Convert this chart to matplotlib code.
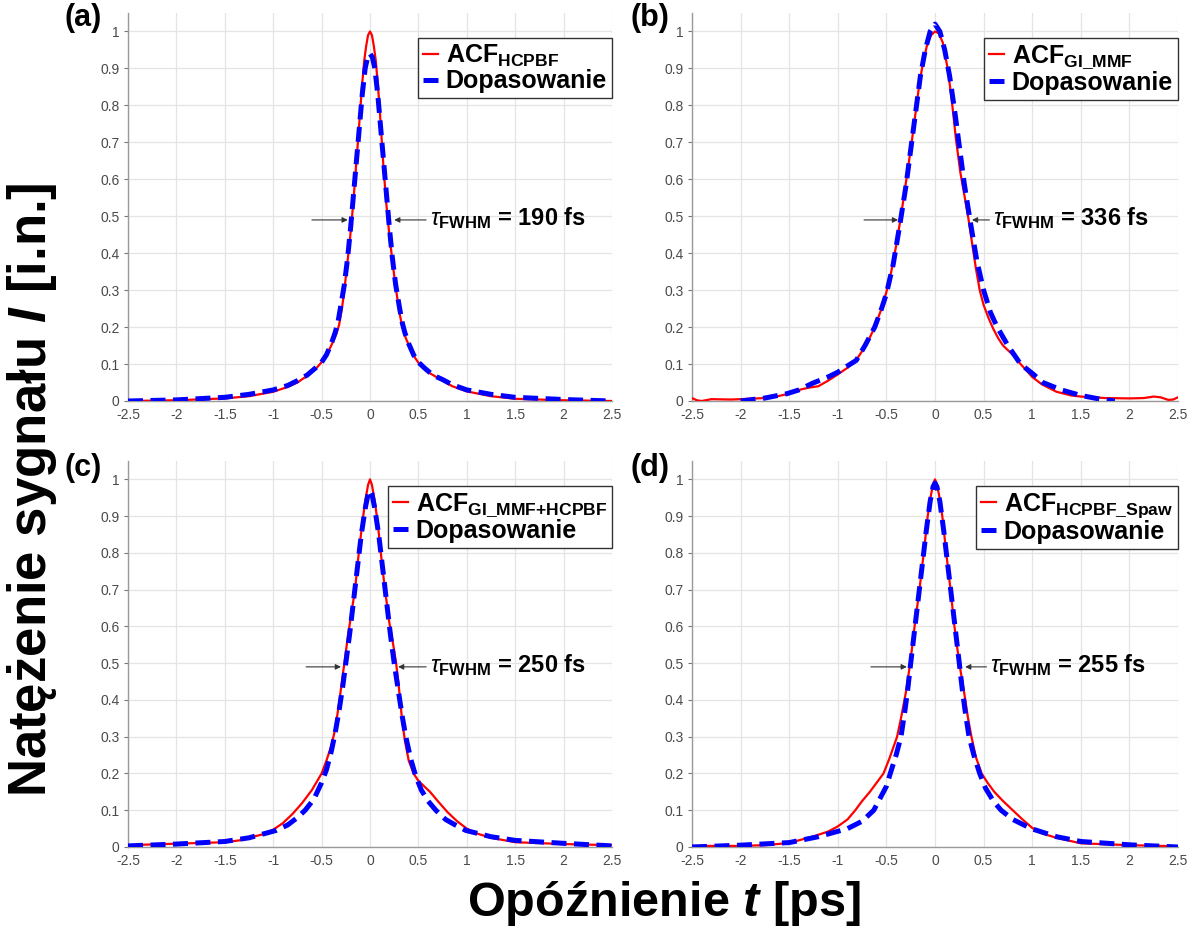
import numpy as np
import matplotlib
matplotlib.use("Agg")
import matplotlib.pyplot as plt

plt.rcParams['font.family'] = ['Liberation Sans', 'DejaVu Sans']
plt.rcParams['mathtext.fontset'] = 'custom'
plt.rcParams['mathtext.rm'] = 'Liberation Sans'
plt.rcParams['mathtext.it'] = 'Liberation Sans:italic'
plt.rcParams['mathtext.bf'] = 'Liberation Sans:bold'
plt.rcParams['mathtext.sf'] = 'Liberation Sans:bold:italic'

#%% data (delay in ps, normalised intensity)
# (a) HCPBF
a_acf_t = [-2.5, -2.0, -1.5, -1.25, -1.0, -0.85, -0.75, -0.65, -0.55, -0.5, -0.45, -0.4, -0.35, -0.32,
           -0.29, -0.265, -0.24, -0.21, -0.185, -0.16, -0.14, -0.125, -0.1, -0.08, -0.06, -0.04, -0.02, 0.0,
           0.02, 0.04, 0.06, 0.08, 0.1, 0.12, 0.14, 0.17, 0.2, 0.235, 0.27, 0.3, 0.33, 0.37, 0.42,
           0.47, 0.51, 0.6, 0.75, 0.85, 1.0, 1.25, 1.5, 2.0, 2.5]
a_acf_i = [0.0, 0.002, 0.007, 0.013, 0.025, 0.038, 0.05, 0.068, 0.09, 0.105, 0.125, 0.15, 0.18, 0.205,
           0.25, 0.3, 0.36, 0.43, 0.5, 0.58, 0.65, 0.7, 0.79, 0.86, 0.92, 0.96, 0.99, 1.0,
           0.99, 0.96, 0.92, 0.86, 0.79, 0.71, 0.63, 0.53, 0.45, 0.37, 0.3, 0.245, 0.205, 0.17, 0.14,
           0.115, 0.1, 0.078, 0.055, 0.04, 0.026, 0.013, 0.006, 0.002, 0.0]
a_fit_t = [-2.5, -2.0, -1.5, -1.25, -1.0, -0.85, -0.75, -0.65, -0.56, -0.5, -0.45, -0.4, -0.36, -0.33,
           -0.3, -0.265, -0.23, -0.2, -0.17, -0.14, -0.11, -0.08, -0.05, -0.025, 0.0,
           0.025, 0.05, 0.08, 0.11, 0.14, 0.17, 0.2, 0.23, 0.265, 0.3, 0.33, 0.36, 0.4, 0.45,
           0.5, 0.56, 0.65, 0.75, 0.85, 1.0, 1.25, 1.5, 2.0, 2.5]
a_fit_i = [0.0, 0.003, 0.01, 0.018, 0.03, 0.042, 0.055, 0.07, 0.09, 0.105, 0.125, 0.155, 0.185, 0.215,
           0.26, 0.315, 0.39, 0.47, 0.56, 0.65, 0.74, 0.83, 0.9, 0.93, 0.94,
           0.93, 0.9, 0.83, 0.74, 0.65, 0.56, 0.47, 0.39, 0.315, 0.26, 0.215, 0.185, 0.155, 0.125,
           0.105, 0.09, 0.07, 0.058, 0.044, 0.03, 0.018, 0.01, 0.004, 0.0]

# (b) GI_MMF
b_acf_t = [-2.5, -2.45, -2.4, -2.3, -2.1, -2.0, -1.75, -1.6, -1.5, -1.4, -1.3, -1.2, -1.1, -1.0,
           -0.9, -0.8, -0.7, -0.62, -0.55, -0.5, -0.45, -0.4, -0.35, -0.3, -0.245, -0.2, -0.16,
           -0.12, -0.08, -0.04, 0.0, 0.04, 0.08, 0.13, 0.17, 0.215, 0.26, 0.3, 0.34, 0.38, 0.42,
           0.46, 0.5, 0.55, 0.6, 0.65, 0.7, 0.8, 0.88, 0.95, 1.0, 1.1, 1.25, 1.4, 1.5, 1.75, 2.0,
           2.15, 2.25, 2.32, 2.4, 2.45, 2.5]
b_acf_i = [0.008, 0.002, 0.0, 0.005, 0.004, 0.005, 0.008, 0.014, 0.02, 0.03, 0.036, 0.04, 0.055, 0.072,
           0.09, 0.115, 0.155, 0.2, 0.25, 0.295, 0.35, 0.42, 0.5, 0.59, 0.69, 0.78, 0.86,
           0.92, 0.965, 0.99, 1.0, 0.995, 0.97, 0.9, 0.82, 0.71, 0.62, 0.56, 0.5, 0.43, 0.36,
           0.3, 0.26, 0.225, 0.195, 0.17, 0.15, 0.125, 0.1, 0.08, 0.065, 0.045, 0.025, 0.015, 0.012,
           0.008, 0.007, 0.008, 0.012, 0.01, 0.003, 0.004, 0.01]
b_fit_t = [-2.0, -1.75, -1.52, -1.4, -1.26, -1.1, -1.0, -0.9, -0.81, -0.72, -0.62, -0.55, -0.5,
           -0.43, -0.36, -0.3, -0.25, -0.2, -0.15, -0.1, -0.05, 0.0, 0.05, 0.1, 0.15, 0.2, 0.25,
           0.3, 0.36, 0.43, 0.5, 0.57, 0.64, 0.75, 0.88, 1.0, 1.11, 1.3, 1.5, 1.7, 1.85]
b_fit_i = [0.0, 0.008, 0.02, 0.03, 0.048, 0.065, 0.078, 0.095, 0.11, 0.15, 0.2, 0.25, 0.29,
           0.37, 0.48, 0.58, 0.68, 0.78, 0.88, 0.95, 1.0, 1.02, 1.0, 0.95, 0.88, 0.79, 0.69,
           0.59, 0.49, 0.38, 0.3, 0.24, 0.2, 0.15, 0.1, 0.075, 0.05, 0.03, 0.015, 0.005, 0.0]

# (c) GI_MMF+HCPBF
c_acf_t = [-2.5, -2.0, -1.5, -1.35, -1.25, -1.1, -1.0, -0.9, -0.8, -0.7, -0.6, -0.5, -0.45, -0.4,
           -0.36, -0.32, -0.29, -0.265, -0.23, -0.19, -0.155, -0.12, -0.08, -0.05, -0.02, 0.0,
           0.02, 0.05, 0.08, 0.12, 0.15, 0.2, 0.24, 0.27, 0.3, 0.33, 0.36, 0.4, 0.45, 0.5, 0.56,
           0.62, 0.7, 0.8, 0.9, 1.0, 1.1, 1.25, 1.5, 2.0, 2.5]
c_acf_i = [0.005, 0.009, 0.013, 0.018, 0.025, 0.035, 0.047, 0.065, 0.09, 0.12, 0.155, 0.2, 0.235, 0.275,
           0.32, 0.39, 0.45, 0.5, 0.57, 0.64, 0.7, 0.79, 0.88, 0.94, 0.985, 1.0,
           0.985, 0.94, 0.88, 0.78, 0.71, 0.61, 0.55, 0.5, 0.43, 0.35, 0.29, 0.235, 0.2, 0.18, 0.165,
           0.15, 0.125, 0.095, 0.07, 0.05, 0.037, 0.025, 0.013, 0.008, 0.005]
c_fit_t = [-2.5, -2.0, -1.5, -1.25, -0.97, -0.85, -0.75, -0.67, -0.58, -0.5, -0.45, -0.4, -0.36,
           -0.32, -0.28, -0.25, -0.21, -0.17, -0.13, -0.09, -0.05, -0.02, 0.0, 0.02, 0.05, 0.09,
           0.13, 0.17, 0.21, 0.25, 0.29, 0.33, 0.37, 0.42, 0.47, 0.53, 0.6, 0.68, 0.78, 0.88, 0.99,
           1.25, 1.5, 2.0, 2.5]
c_fit_i = [0.003, 0.008, 0.015, 0.025, 0.045, 0.06, 0.08, 0.1, 0.13, 0.175, 0.21, 0.26, 0.31,
           0.37, 0.44, 0.5, 0.58, 0.67, 0.76, 0.85, 0.92, 0.96, 0.97, 0.96, 0.92, 0.85,
           0.76, 0.67, 0.58, 0.5, 0.43, 0.36, 0.3, 0.24, 0.195, 0.155, 0.125, 0.1, 0.075, 0.06, 0.045,
           0.028, 0.018, 0.01, 0.003]

# (d) HCPBF_Spaw
d_acf_t = [-2.5, -2.0, -1.75, -1.5, -1.25, -1.1, -1.0, -0.9, -0.82, -0.75, -0.67, -0.6, -0.53, -0.47,
           -0.43, -0.39, -0.35, -0.3, -0.255, -0.21, -0.16, -0.12, -0.075, -0.04, -0.015, 0.0,
           0.015, 0.04, 0.075, 0.12, 0.16, 0.2, 0.25, 0.3, 0.34, 0.375, 0.42, 0.48, 0.54, 0.61,
           0.7, 0.8, 0.9, 1.0, 1.1, 1.25, 1.5, 2.0, 2.5]
d_acf_i = [0.003, 0.003, 0.005, 0.011, 0.029, 0.042, 0.056, 0.075, 0.1, 0.125, 0.15, 0.175, 0.2, 0.24,
           0.27, 0.3, 0.35, 0.42, 0.5, 0.6, 0.7, 0.79, 0.9, 0.96, 0.99, 1.0,
           0.99, 0.96, 0.9, 0.79, 0.7, 0.6, 0.5, 0.42, 0.35, 0.3, 0.245, 0.2, 0.175, 0.15,
           0.125, 0.1, 0.075, 0.052, 0.037, 0.025, 0.01, 0.005, 0.002]
d_fit_t = [-2.5, -2.0, -1.5, -1.2, -0.9, -0.75, -0.63, -0.55, -0.5, -0.46, -0.4, -0.35, -0.31,
           -0.28, -0.25, -0.21, -0.17, -0.13, -0.09, -0.05, -0.02, 0.0, 0.02, 0.05, 0.09, 0.13,
           0.17, 0.21, 0.25, 0.28, 0.31, 0.35, 0.4, 0.46, 0.52, 0.6, 0.68, 0.8, 0.99, 1.25, 1.5,
           2.0, 2.5]
d_fit_i = [0.0, 0.005, 0.012, 0.028, 0.05, 0.07, 0.1, 0.14, 0.165, 0.2, 0.25, 0.3, 0.37,
           0.43, 0.5, 0.59, 0.68, 0.77, 0.86, 0.94, 0.98, 0.99, 0.98, 0.94, 0.86, 0.77,
           0.68, 0.59, 0.5, 0.43, 0.37, 0.3, 0.25, 0.2, 0.16, 0.125, 0.1, 0.075, 0.05, 0.028, 0.015,
           0.006, 0.0]

letters = ['(a)', '(b)', '(c)', '(d)']
fibres = ['HCPBF', r'GI\_MMF', r'GI\_MMF{+}HCPBF', r'HCPBF\_Spaw']
fwhm_fs = [190, 336, 250, 255]
# arrow tails / heads at half maximum, left and right
arrows = [(-0.6, -0.23, 0.58, 0.25), (-0.73, -0.38, 0.56, 0.38),
          (-0.66, -0.30, 0.58, 0.29), (-0.66, -0.29, 0.53, 0.31)]

curves = [(a_acf_t, a_acf_i, a_fit_t, a_fit_i), (b_acf_t, b_acf_i, b_fit_t, b_fit_i),
          (c_acf_t, c_acf_i, c_fit_t, c_fit_i), (d_acf_t, d_acf_i, d_fit_t, d_fit_i)]

xticks = np.arange(-2.5, 2.51, 0.5)
yticks = np.arange(0, 1.01, 0.1)
xlabels = ['%g' % v for v in xticks]
ylabels = ['%g' % round(v, 1) for v in yticks]

#%%
W, H = 1196, 934
fig = plt.figure(figsize=(W / 100, H / 100), dpi=100)

# axes boxes in pixels: left, right, top, bottom
boxes = [(128, 612, 13, 401), (692, 1178, 13, 401),
         (128, 612, 461, 847), (692, 1178, 461, 847)]
letter_pos = [(64, 18), (630, 18), (64, 468), (630, 468)]

for k in range(4):
    l, r, t, b = boxes[k]
    ax = fig.add_axes([l / W, 1 - b / H, (r - l) / W, (b - t) / H])
    acf_t, acf_i, fit_t, fit_i = curves[k]

    ax.plot(acf_t, acf_i, color='#ff0000', lw=1.6, label=r'ACF$_{\mathbf{%s}}$' % fibres[k], zorder=3)
    ax.plot(fit_t, fit_i, color='#0000ff', lw=3.6, dashes=(3.0, 1.5),
            label='Dopasowanie', zorder=4)

    ax.set_xlim(-2.5, 2.5)
    ax.set_ylim(0, 1.05)
    ax.set_xticks(xticks)
    ax.set_xticklabels(xlabels)
    ax.set_yticks(yticks)
    ax.set_yticklabels(ylabels)
    ax.grid(True, color='#e4e4e4', lw=0.9)
    ax.set_axisbelow(True)
    for s in ['top', 'right']:
        ax.spines[s].set_visible(False)
    for s in ['left', 'bottom']:
        ax.spines[s].set_color('#9a9a9a')
        ax.spines[s].set_linewidth(1.0)
    ax.tick_params(axis='x', length=0, pad=5, labelsize=10, labelcolor='#4a4a4a')
    ax.tick_params(axis='y', length=3, direction='out', pad=3, color='#777777',
                   labelsize=10, labelcolor='#4a4a4a')

    # FWHM arrows + label
    x1, x2, x3, x4 = arrows[k]
    for tail, head in [(x1, x2), (x3, x4)]:
        ax.annotate('', xy=(head, 0.49), xytext=(tail, 0.49),
                    arrowprops=dict(arrowstyle='-|>', color='#333333', lw=0.8,
                                    mutation_scale=8, shrinkA=0, shrinkB=0), zorder=5)
    ax.text(x3 + 0.04, 0.495, r'$\tau_{\mathbf{FWHM}}$ = %d fs' % fwhm_fs[k],
            fontsize=17, fontweight='bold', ha='left', va='center', zorder=6)

    leg = ax.legend(loc='upper right', bbox_to_anchor=(1.0, 0.935),
                    prop={'weight': 'bold', 'size': 18}, frameon=True, fancybox=False,
                    borderpad=0.2, handlelength=0.6, handletextpad=0.3, labelspacing=0.0,
                    borderaxespad=0.0, framealpha=1)
    leg.get_frame().set_edgecolor('#333333')
    leg.get_frame().set_linewidth(1.0)

    fig.text(letter_pos[k][0] / W, 1 - letter_pos[k][1] / H, letters[k],
             fontsize=22, fontweight='bold', ha='left', va='center')

fig.text(32 / W, 1 - 490 / H, r'Natężenie sygnału $\mathsf{I}$ [i.n.]', rotation=90,
         fontsize=38, fontweight='bold', ha='center', va='center')
fig.text(664 / W, 1 - 903 / H, r'Opóźnienie $\mathsf{t}$ [ps]',
         fontsize=35, fontweight='bold', ha='center', va='center')

fig.savefig('out.png', dpi=100)
